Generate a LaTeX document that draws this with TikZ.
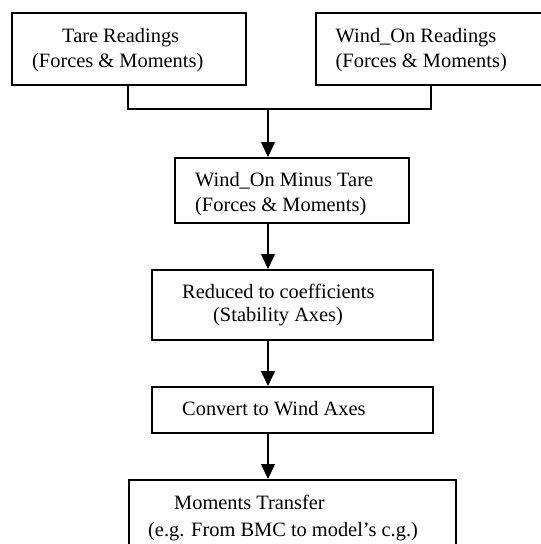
\documentclass[tikz,border=0pt]{standalone}
\usepackage{fontspec}
\setmainfont{Liberation Serif}
\usetikzlibrary{arrows.meta}
\begin{document}
\begin{tikzpicture}[x=1pt,y=-1pt,
  box/.style={draw, line width=1.6pt, inner sep=0pt, anchor=north west},
  txt/.style={anchor=base west, inner sep=0pt, font=\fontsize{20.4}{25}\selectfont},
  conn/.style={line width=1.6pt},
  arr/.style={line width=1.6pt, -{Triangle[width=14pt,length=15pt]}}]
\useasboundingbox (0,0) rectangle (541,544);
\clip (0,0) rectangle (541,544);
% boxes
\node[box, minimum width=234pt, minimum height=72pt] (tare) at (11,12) {};
\node[box, minimum width=232pt, minimum height=72pt] (wind) at (315,12) {};
\node[box, minimum width=234pt, minimum height=65pt] (mid) at (174,157) {};
\node[box, minimum width=281pt, minimum height=70pt] (red) at (151,269) {};
\node[box, minimum width=281pt, minimum height=46pt] (conv) at (151,386) {};
\node[box, minimum width=327pt, minimum height=90pt] (mom) at (128,479) {};
% texts
\node[txt] (t1) at (62,42) {Tare Readings};
\node[txt] (t2) at (32,67) {(Forces \& Moments)};
\node[txt] (w1) at (335.5,42) {Wind\_On Readings};
\node[txt] (w2) at (335.5,67) {(Forces \& Moments)};
\node[txt] (m1) at (195,186) {Wind\_On Minus Tare};
\node[txt] (m2) at (195,211) {(Forces \& Moments)};
\node[txt] (r1) at (182,298.5) {Reduced to coefficients};
\node[txt] (r2) at (213,321.5) {(Stability Axes)};
\node[txt] (c1) at (182,415) {Convert to Wind Axes};
\node[txt] (o1) at (174,509) {Moments Transfer};
\node[txt] (o2) at (148,536) {(e.g. From BMC to model’s c.g.)};
% connectors
\coordinate (j) at (268,109);
\coordinate (ja) at (128,109);
\coordinate (jb) at (431,109);
\draw[conn] (tare.south -| ja) -- (ja) -- (jb) -- (wind.south -| jb);
\draw[arr] (j) -- (j |- mid.north);
\draw[arr] (mid.south -| j) -- (red.north -| j);
\draw[arr] (red.south -| j) -- (conv.north -| j);
\draw[arr] (conv.south -| j) -- (mom.north -| j);
\end{tikzpicture}
\end{document}
